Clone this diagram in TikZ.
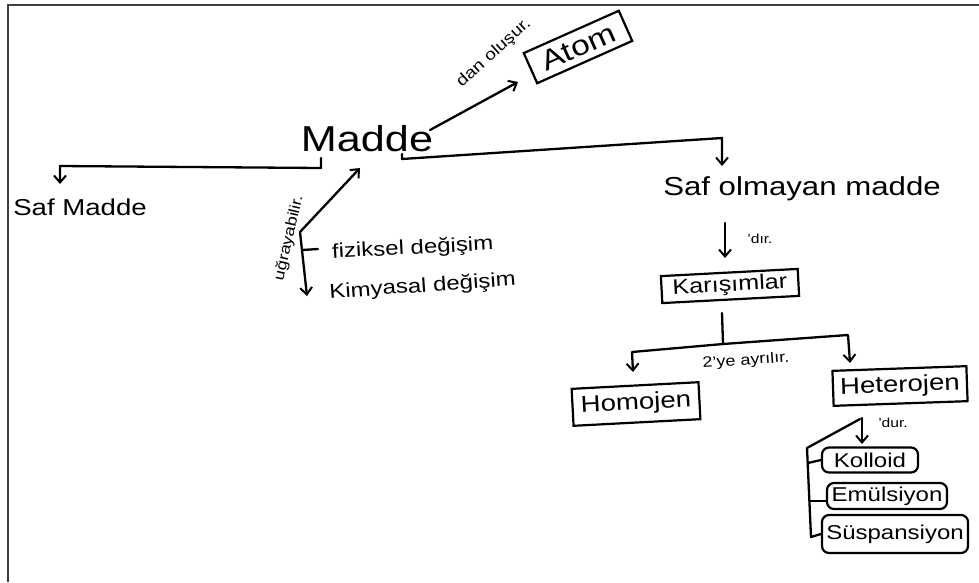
\documentclass[tikz,border=0pt]{standalone}
\usepackage{fontspec}
\setmainfont{Liberation Sans}[FakeStretch=1.2]
\usetikzlibrary{arrows.meta,calc}

\begin{document}
\begin{tikzpicture}[x=1pt,y=-1pt,
  ink/.style={line width=2.3pt, draw=black, line cap=round, line join=round},
  arr/.style={ink, -{Straight Barb[length=7pt,width=12pt,line width=2pt]}},
  word/.style={inner sep=0pt, text=black},
  box/.style={draw=black, line width=2.2pt, inner sep=0pt, text=black},
  pill/.style={box, rounded corners=7pt},
  fs/.style={font=\fontsize{#1}{#1}\selectfont}
]
\useasboundingbox (0,0) rectangle (979,582);
% sheet edge
\draw[line width=2.5pt, draw=black!75] (8,582) -- (8,5) -- (979,5);

% concepts
\node[word, fs=36, anchor=base] (madde) at (367,151) {Madde};
\node[word, fs=23, anchor=base] (safmadde) at (80,215) {Saf Madde};
\node[word, fs=26, anchor=base] (safolmayan) at (802,195) {Saf olmayan madde};
\node[word, fs=20, anchor=base, rotate=3] (fiziksel) at (413,254) {fiziksel değişim};
\node[word, fs=20, anchor=base, rotate=4] (kimyasal) at (423,292) {Kimyasal değişim};

\node[box, fs=28, rotate=24, minimum width=104pt, minimum height=33pt] (atom) at (578,47) {Atom};
\node[box, fs=21, rotate=3, minimum width=137pt, minimum height=27pt] (karisim) at (730,286) {Karışımlar};
\node[box, fs=23, rotate=3, minimum width=127pt, minimum height=37pt] (homojen) at (636,404) {Homojen};
\node[box, fs=23, rotate=2, minimum width=134pt, minimum height=35pt] (heterojen) at (900,386) {Heterojen};
\node[pill, fs=20, minimum width=96pt, minimum height=25pt] (kolloid) at (870,460) {Kolloid};
\node[pill, fs=20, minimum width=120pt, minimum height=26pt] (emulsiyon) at (887,496) {Emülsiyon};
\node[pill, fs=20, minimum width=146pt, minimum height=38pt] (suspansiyon) at (895,534) {Süspansiyon};

% link labels
\node[word, fs=16, rotate=42] (lblolusur) at (494,53) {dan oluşur.};
\node[word, fs=15, rotate=77] (lblugra) at (289,238) {uğrayabilir.};
\node[word, fs=13] (lbldir) at (760,239) {'dır.};
\node[word, fs=15, rotate=4] (lblayri) at (746,361) {2'ye ayrılır.};
\node[word, fs=13] (lbldur) at (893,423) {'dur.};

% connectors
\draw[arr] ($(madde.base)+(63,-21)$) -- ($(atom.center)+(-60,35)$);
\draw[arr] ($(madde.base)+(-46,7)$) -- ($(madde.base)+(-46,17)$)
  -- ($(safmadde.base)+(-20,-49)$) -- ($(safmadde.base)+(-20,-31)$);
\draw[arr] ($(madde.base)+(35,3)$) -- ($(madde.base)+(35,8)$)
  -- ($(safolmayan.base)+(-80,-57)$) -- ($(safolmayan.base)+(-80,-29)$);

\coordinate (pivot) at (300,232);
\draw[arr] (pivot) -- ($(madde.base)+(-7,17)$);
\draw[arr] (pivot) -- ($(kimyasal.base)+(-116,4)$);
\draw[ink] (302,250) -- ($(fiziksel.base)+(-95,-5)$);

\draw[arr] ($(safolmayan.base)+(-77,28)$) -- ($(karisim.center)+(-5,-28)$);

\coordinate (split) at (723,344);
\draw[ink] ($(karisim.center)+(-8,27)$) -- (split);
\draw[arr] (split) -- ($(homojen.center)+(-4,-52)$) -- ($(homojen.center)+(-3,-32)$);
\draw[arr] (split) -- ($(heterojen.center)+(-52,-51)$) -- ($(heterojen.center)+(-50,-23)$);

\draw[arr] ($(heterojen.center)+(-38,32)$) -- ($(kolloid.center)+(-8,-16)$);
\draw[ink] ($(heterojen.center)+(-40,33)$) -- ($(kolloid.center)+(-63,-12)$)
  -- ($(suspansiyon.center)+(-84,3)$) -- (suspansiyon.west);
\draw[ink] ($(kolloid.center)+(-62,3)$) -- (kolloid.west);
\draw[ink] ($(emulsiyon.center)+(-77,5)$) -- ($(emulsiyon.west)+(0,5)$);
\end{tikzpicture}
\end{document}
